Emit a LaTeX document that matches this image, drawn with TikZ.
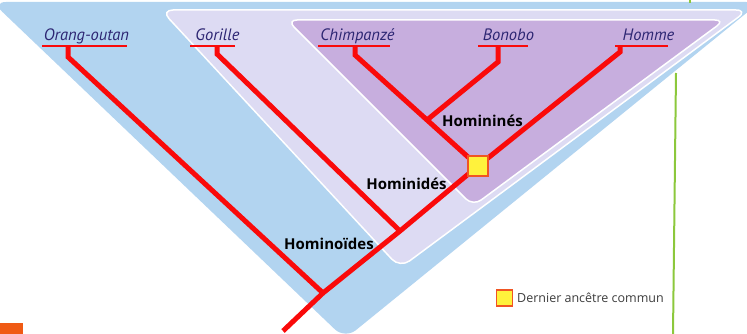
\documentclass[tikz,border=0pt]{standalone}
\usepackage{fontspec}
\setmainfont{Open Sans}
\newfontfamily\labfont{PT Sans}
\definecolor{bluebg}{RGB}{178,212,240}
\definecolor{lavbg}{RGB}{221,219,243}
\definecolor{purbg}{RGB}{199,174,222}
\definecolor{treered}{RGB}{250,10,10}
\definecolor{labblue}{RGB}{45,38,115}
\definecolor{sqyellow}{RGB}{255,242,60}
\definecolor{sqorange}{RGB}{240,85,35}
\definecolor{greenl}{RGB}{140,200,60}
\definecolor{orangebox}{RGB}{240,90,20}
\definecolor{legtext}{RGB}{60,60,60}
\tikzset{
  branch/.style={draw=treered, line width=5pt, line join=miter},
  uline/.style={draw=treered, line width=2pt},
  species/.style={font=\labfont\itshape\fontsize{16.5}{16.5}\selectfont, text=labblue, inner sep=0pt, anchor=base},
  clade/.style={font=\bfseries\fontsize{15}{15}\selectfont, text=black, inner sep=0pt},
  ancestor/.style={draw=sqorange, fill=sqyellow, line width=1.5pt, minimum size=20pt, inner sep=0pt},
}
\begin{document}
\begin{tikzpicture}[x=1pt,y=-1pt]
\useasboundingbox (0,0) rectangle (747,334);
\clip (0,0) rectangle (747,334);
% background regions
\fill[bluebg, rounded corners=14pt] (-8,2) -- (760,2) -- (345,339) -- cycle;
\filldraw[fill=lavbg, draw=white, line width=1.5pt, rounded corners=12pt] (161,10) -- (748,10) -- (400,268) -- cycle;
\filldraw[fill=purbg, draw=white, line width=1.5pt, rounded corners=10pt] (287,20) -- (725,20) -- (473,206) -- cycle;
% green line and orange box
\draw[greenl, line width=2pt] (676,73) -- (673,334);
\draw[greenl, line width=2pt] (690,0) -- (690,3);
\fill[orangebox] (0,323) rectangle (23,334);
% species labels
\node[species] (orang) at (86.5,41) {Orang-outan};
\node[species] (gor) at (217.5,41) {Gorille};
\node[species] (chimp) at (357.5,41) {Chimpanzé};
\node[species] (bono) at (508.5,41) {Bonobo};
\node[species] (homme) at (648.5,41) {Homme};
% underlines
\coordinate (u1a) at (42,46); \coordinate (u1b) at (127,46);
\coordinate (u2a) at (190,46); \coordinate (u2b) at (235,46);
\coordinate (u3a) at (318,46); \coordinate (u3b) at (390,46);
\coordinate (u4a) at (478,46); \coordinate (u4b) at (528,46);
\coordinate (u5a) at (615,46); \coordinate (u5b) at (668,46);
\draw[uline] (u1a) -- (u1b);
\draw[uline] (u2a) -- (u2b);
\draw[uline] (u3a) -- (u3b);
\draw[uline] (u4a) -- (u4b);
\draw[uline] (u5a) -- (u5b);
% tree coordinates
\coordinate (R) at (283,331);
\coordinate (J1) at (323,293);
\coordinate (J2) at (400,231);
\coordinate (S) at (478,166);
\coordinate (J3) at (427,120);
\coordinate (oT) at (68,46);   \coordinate (oB) at (68,57);
\coordinate (gT) at (217,46);  \coordinate (gB) at (217,54);
\coordinate (cT) at (355,46);  \coordinate (cB) at (355,55);
\coordinate (bT) at (498,46);  \coordinate (bB) at (498,62);
\coordinate (hT) at (620,46);  \coordinate (hB) at (620,52);
% branches
\draw[branch] (R) -- (J1) -- (J2) -- (S) -- (hB) -- (hT);
\draw[branch] (oT) -- (oB) -- (J1);
\draw[branch] (gT) -- (gB) -- (J2);
\draw[branch] (cT) -- (cB) -- (S);
\draw[branch] (bT) -- (bB) -- (J3);
% ancestor square
\node[ancestor] (anc) at (S) {};
% clade labels
\node[clade] (hmn) at (482.5,121) {Homininés};
\node[clade] (hmd) at (406.5,184) {Hominidés};
\node[clade] (hmo) at (329,244) {Hominoïdes};
% legend
\node[ancestor, minimum size=16pt] (leg) at (504.5,298) {};
\node[anchor=west, inner sep=0pt, text=legtext, font=\fontsize{12.5}{12.5}\selectfont] (legtxt) at (517,298) {Dernier ancêtre commun};
\end{tikzpicture}
\end{document}
